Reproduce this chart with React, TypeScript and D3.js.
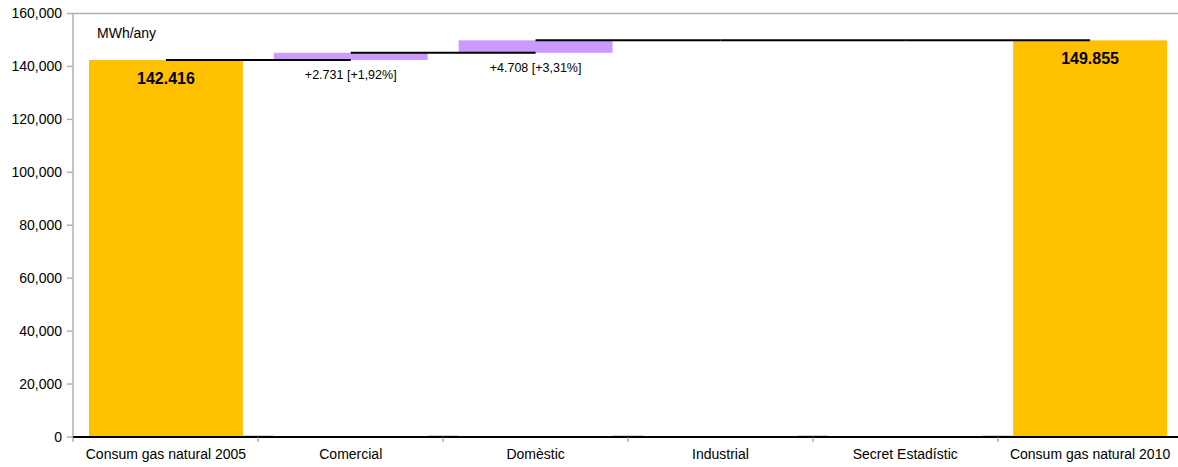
import React from "react";
import * as d3 from "d3";

const categories = [
  "Consum gas natural 2005",
  "Comercial",
  "Domèstic",
  "Industrial",
  "Secret Estadístic",
  "Consum gas natural 2010",
];
// kind: total or delta
const kinds = ["total", "delta", "delta", "delta", "delta", "total"];
const values = [142416, 2731, 4708, 0, 0, 149855];
const valueLabels = ["142.416", "+2.731 [+1,92%]", "+4.708 [+3,31%]", "", "", "149.855"];
const yTicks = [0, 20000, 40000, 60000, 80000, 100000, 120000, 140000, 160000];
const unitLabel = "MWh/any";

const W = 1178;
const H = 467;
const PLOT_LEFT = 73;
const PLOT_RIGHT = 1183; // plot area extends slightly past the canvas
const PLOT_TOP = 13.5;
const PLOT_BOTTOM = 437;
const FONT = "'Liberation Sans', Arial, sans-serif";

export default function App() {
  const x = d3
    .scaleBand<string>()
    .domain(categories)
    .range([PLOT_LEFT, PLOT_RIGHT])
    .paddingInner(0.1676)
    .paddingOuter(0.0865);
  const y = d3.scaleLinear().domain([0, 160000]).range([PLOT_BOTTOM, PLOT_TOP]);

  let cum = 0;
  const segs = categories.map((c, i) => {
    let y0: number, y1: number;
    if (kinds[i] === "total") {
      y0 = 0;
      y1 = values[i];
      cum = values[i];
    } else {
      y0 = cum;
      y1 = cum + values[i];
      cum = y1;
    }
    return { c, i, y0, y1, level: cum };
  });

  const n = categories.length;
  const bandStep = (PLOT_RIGHT - PLOT_LEFT) / n;
  const bounds = d3.range(n + 1).map((k) => PLOT_LEFT + k * bandStep);
  const fmt = d3.format(",");
  const bw = x.bandwidth();

  return (
    <svg width={W} height={H} style={{ position: "absolute", left: 0, top: 0, background: "#fff" }}>
      {/* plot frame */}
      <line x1={PLOT_LEFT} x2={PLOT_RIGHT} y1={PLOT_TOP} y2={PLOT_TOP} stroke="#b0b0b0" strokeWidth={1.5} />
      <line x1={PLOT_LEFT} x2={PLOT_LEFT} y1={PLOT_TOP} y2={PLOT_BOTTOM} stroke="#b0b0b0" strokeWidth={1.5} />
      {/* faint base segments in gaps between bars */}
      {categories.slice(0, -1).map((c, i) => (
        <line
          key={"g" + i}
          x1={x(c)! + bw}
          x2={x(categories[i + 1])!}
          y1={PLOT_BOTTOM - 1.5}
          y2={PLOT_BOTTOM - 1.5}
          stroke="#d8d8d8"
          strokeWidth={1}
        />
      ))}

      {/* y ticks */}
      {yTicks.map((t) => (
        <g key={t}>
          <line x1={PLOT_LEFT - 6} x2={PLOT_LEFT} y1={y(t)} y2={y(t)} stroke="#b0b0b0" strokeWidth={1.5} />
          <text x={PLOT_LEFT - 11} y={y(t)} dy="0.35em" textAnchor="end" fontFamily={FONT} fontSize={14} fill="#000">
            {fmt(t)}
          </text>
        </g>
      ))}

      {/* bars */}
      {segs.map((s) => {
        const top = y(Math.max(s.y0, s.y1));
        const bot = y(Math.min(s.y0, s.y1));
        if (bot - top <= 0) return null;
        return (
          <rect
            key={s.c}
            x={x(s.c)!}
            y={top}
            width={bw}
            height={bot - top}
            fill={kinds[s.i] === "total" ? "#FFC000" : "#CC99FF"}
          />
        );
      })}

      {/* connectors */}
      {segs.slice(0, -1).map((s, i) => {
        const x1 = x(s.c)! + bw / 2;
        const x2 = x(categories[i + 1])! + bw / 2;
        return <line key={"c" + i} x1={x1} x2={x2} y1={y(s.level)} y2={y(s.level)} stroke="#000" strokeWidth={2} />;
      })}

      {/* x axis */}
      <line x1={PLOT_LEFT} x2={PLOT_RIGHT} y1={PLOT_BOTTOM} y2={PLOT_BOTTOM} stroke="#000" strokeWidth={2} />
      {bounds.map((b, k) => (
        <line key={"t" + k} x1={b} x2={b} y1={PLOT_BOTTOM} y2={PLOT_BOTTOM + 5} stroke="#888" strokeWidth={1} />
      ))}
      {categories.map((c) => (
        <text
          key={"l" + c}
          x={x(c)! + bw / 2}
          y={PLOT_BOTTOM + 17}
          dy="0.35em"
          textAnchor="middle"
          fontFamily={FONT}
          fontSize={14}
          fill="#000"
        >
          {c}
        </text>
      ))}

      {/* value labels */}
      {segs.map((s) => {
        const lbl = valueLabels[s.i];
        if (!lbl) return null;
        const cx = x(s.c)! + bw / 2;
        if (kinds[s.i] === "total") {
          return (
            <text key={"v" + s.c} x={cx} y={y(s.y1) + 18} dy="0.35em" textAnchor="middle" fontFamily={FONT} fontSize={16} fontWeight="bold" fill="#000">
              {lbl}
            </text>
          );
        }
        return (
          <text key={"v" + s.c} x={cx} y={y(Math.min(s.y0, s.y1)) + 15} dy="0.35em" textAnchor="middle" fontFamily={FONT} fontSize={12.5} fill="#000">
            {lbl}
          </text>
        );
      })}

      <text x={97} y={33} dy="0.35em" fontFamily={FONT} fontSize={14} fill="#000">
        {unitLabel}
      </text>
    </svg>
  );
}
